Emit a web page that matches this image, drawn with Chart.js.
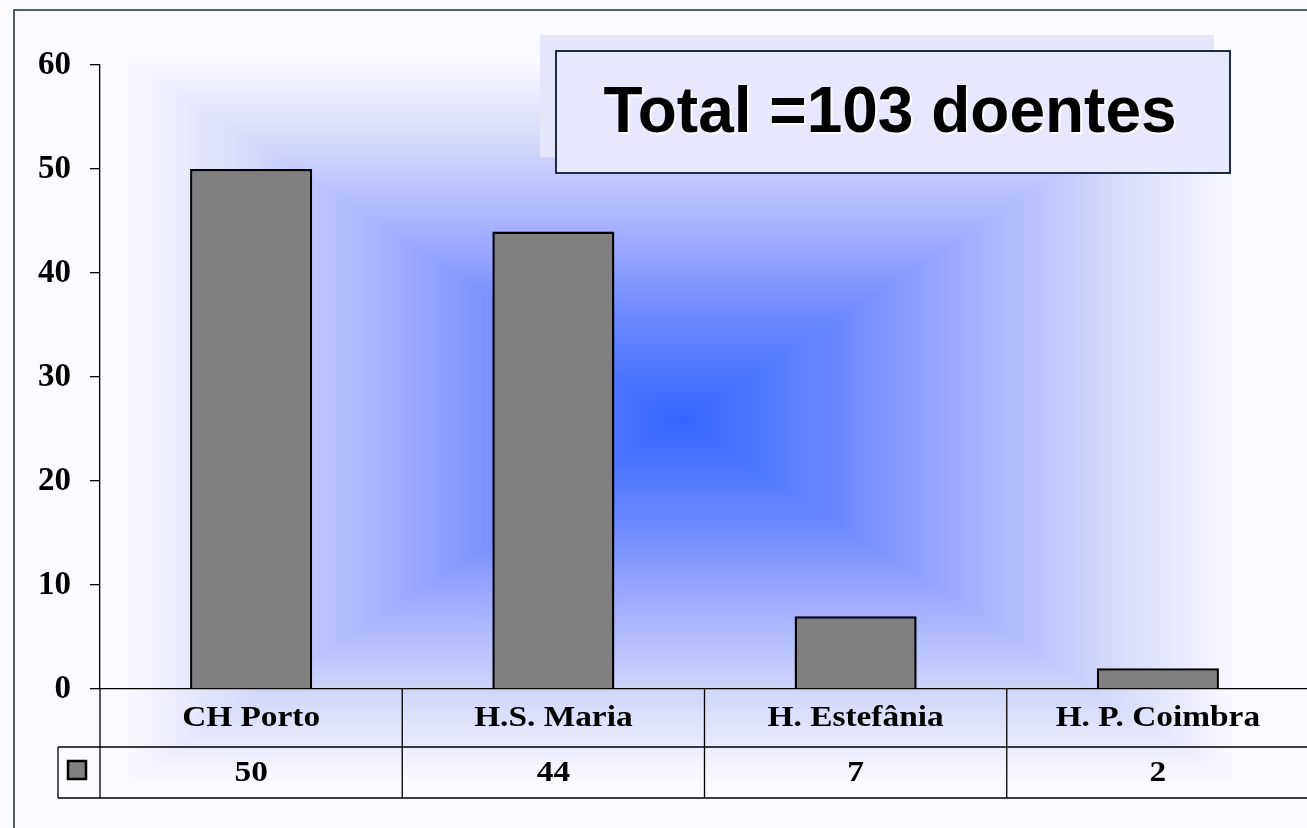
<!DOCTYPE html>
<html>
<head>
<meta charset="utf-8">
<script src="https://cdn.jsdelivr.net/npm/chart.js@4.4.1/dist/chart.umd.min.js"></script>
<style>
    html, body { margin: 0; padding: 0; background: #ffffff; overflow: hidden; }
    #wrap { width: 1312px; height: 828px; }
</style>
</head>
<body>
<div id="wrap"><canvas id="report" width="1312" height="828"></canvas></div>
<script>
// dados do gráfico
const hospitais = ['CH Porto', 'H.S. Maria', 'H. Estefânia', 'H. P. Coimbra'];
const doentes = [50, 44, 7, 2];
const yTicks = [0, 10, 20, 30, 40, 50, 60];
const titulo = 'Total =103 doentes';

const corBarra = '#808080';
const serif = "'Liberation Serif', 'Times New Roman', serif";

// stops do fundo (centro azul -> branco nas bordas)
const stopsFundo = [
    [0, [51, 102, 255]],
    [0.3, [112, 138, 255]],
    [0.5, [160, 172, 255]],
    [0.75, [210, 214, 250]],
    [1, [251, 251, 255]]
];

function corNoStop(t) {
    for (let i = 1; i < stopsFundo.length; i++) {
        if (t <= stopsFundo[i][0]) {
            const a = stopsFundo[i - 1], b = stopsFundo[i];
            const f = (t - a[0]) / (b[0] - a[0]);
            return [0, 1, 2].map(k => a[1][k] + (b[1][k] - a[1][k]) * f);
        }
    }
    return stopsFundo[stopsFundo.length - 1][1];
}

let fundoCache = null;

// fundo tipo "gradiente a partir do centro" (retangular)
const fundoPlugin = {
    id: 'fundo',
    beforeDraw(chart) {
        const ctx = chart.ctx;
        const w = chart.width, h = chart.height;
        if (!fundoCache) {
            const cx = 680, cy = 420, hw = 560, hh = 364;
            fundoCache = document.createElement('canvas');
            fundoCache.width = w;
            fundoCache.height = h;
            const octx = fundoCache.getContext('2d');
            const img = octx.createImageData(w, h);
            for (let y = 0; y < h; y++) {
                for (let x = 0; x < w; x++) {
                    const t = Math.min(1, Math.max(Math.abs(x - cx) / hw, Math.abs(y - cy) / hh));
                    const c = corNoStop(t);
                    const p = (y * w + x) * 4;
                    img.data[p] = c[0];
                    img.data[p + 1] = c[1];
                    img.data[p + 2] = c[2];
                    img.data[p + 3] = 255;
                }
            }
            octx.putImageData(img, 0, 0);
        }
        ctx.save();
        ctx.drawImage(fundoCache, 0, 0);

        // moldura do slide
        ctx.strokeStyle = '#1c2b3c';
        ctx.lineWidth = 1.5;
        ctx.beginPath();
        ctx.moveTo(14, h);
        ctx.lineTo(14, 10);
        ctx.lineTo(w, 10);
        ctx.stroke();

        // caixa do titulo (sombra + caixa)
        ctx.fillStyle = '#e6e6fa';
        ctx.fillRect(540, 35, 674, 122);
        ctx.fillStyle = '#e8e8fc';
        ctx.fillRect(556, 51, 674, 122);
        ctx.strokeStyle = '#1f2a44';
        ctx.lineWidth = 2;
        ctx.strokeRect(556, 51, 674, 122);
        ctx.font = "bold 64px 'Liberation Sans', Arial, sans-serif";
        ctx.textAlign = 'center';
        ctx.textBaseline = 'middle';
        ctx.shadowColor = 'rgba(255,255,255,0.95)';
        ctx.shadowOffsetX = 2;
        ctx.shadowOffsetY = 2;
        ctx.fillStyle = '#000000';
        ctx.fillText(titulo, 890, 114);
        ctx.restore();
    }
};

// tabela de dados por baixo do eixo
const tabelaPlugin = {
    id: 'tabela',
    afterDraw(chart) {
        const ctx = chart.ctx;
        const x = chart.scales.x;
        const area = chart.chartArea;
        const top = area.bottom, meio = area.bottom + 58, fim = area.bottom + 109;
        const larg = (area.right - area.left) / hospitais.length;

        ctx.save();
        ctx.strokeStyle = '#000000';
        ctx.lineWidth = 1.3;
        ctx.beginPath();
        ctx.moveTo(58, meio); ctx.lineTo(area.right, meio);
        ctx.moveTo(58, fim); ctx.lineTo(area.right, fim);
        ctx.moveTo(58, meio); ctx.lineTo(58, fim);
        ctx.moveTo(area.left, top); ctx.lineTo(area.left, fim);
        hospitais.forEach(function (h, i) {
            const xr = x.getPixelForValue(i) + larg / 2;
            ctx.moveTo(xr, top); ctx.lineTo(xr, fim);
        });
        ctx.stroke();

        // chave da legenda
        ctx.fillStyle = corBarra;
        ctx.fillRect(68, 761, 18, 18);
        ctx.lineWidth = 2.5;
        ctx.strokeRect(68, 761, 18, 18);

        ctx.fillStyle = '#000000';
        ctx.font = 'bold 29px ' + serif;
        ctx.textAlign = 'center';
        ctx.textBaseline = 'middle';
        hospitais.forEach(function (h, i) {
            const xc = x.getPixelForValue(i);
            ctx.save();
            ctx.translate(xc, (top + meio) / 2 + 1);
            ctx.scale(1.15, 1);
            ctx.fillText(h, 0, 0);
            ctx.restore();
            ctx.save();
            ctx.translate(xc, (meio + fim) / 2 + 1);
            ctx.scale(1.15, 1);
            ctx.fillText(String(doentes[i]), 0, 0);
            ctx.restore();
        });
        ctx.restore();
    }
};

const ctx = document.getElementById('report').getContext('2d');
const grafico = new Chart(ctx, {
    type: 'bar',
    data: {
        labels: hospitais,
        datasets: [{
            data: doentes,
            backgroundColor: corBarra,
            borderColor: '#000000',
            borderWidth: 2.5,
            categoryPercentage: 1,
            barPercentage: 0.404
        }]
    },
    options: {
        responsive: false,
        animation: false,
        layout: {
            padding: { top: 65, right: 3, bottom: 139, left: 0 }
        },
        plugins: {
            legend: { display: false },
            tooltip: { enabled: false },
            title: { display: false }
        },
        scales: {
            x: {
                ticks: { display: false },
                grid: { display: false, drawTicks: false },
                border: { display: true, color: '#000000', width: 1.3 },
                afterFit: function (scale) { scale.height = 0; }
            },
            y: {
                min: 0,
                max: 60,
                afterFit: function (scale) { scale.width = 100; },
                afterBuildTicks: function (scale) {
                    scale.ticks = yTicks.map(v => ({ value: v }));
                },
                ticks: {
                    padding: 19,
                    color: '#000000',
                    font: { family: serif, size: 33, weight: 'bold' }
                },
                grid: {
                    drawOnChartArea: false,
                    drawTicks: true,
                    tickLength: 10,
                    color: '#000000',
                    lineWidth: 1.3
                },
                border: { display: true, color: '#000000', width: 1.3 }
            }
        }
    },
    plugins: [fundoPlugin, tabelaPlugin]
});
</script>
</body>
</html>
